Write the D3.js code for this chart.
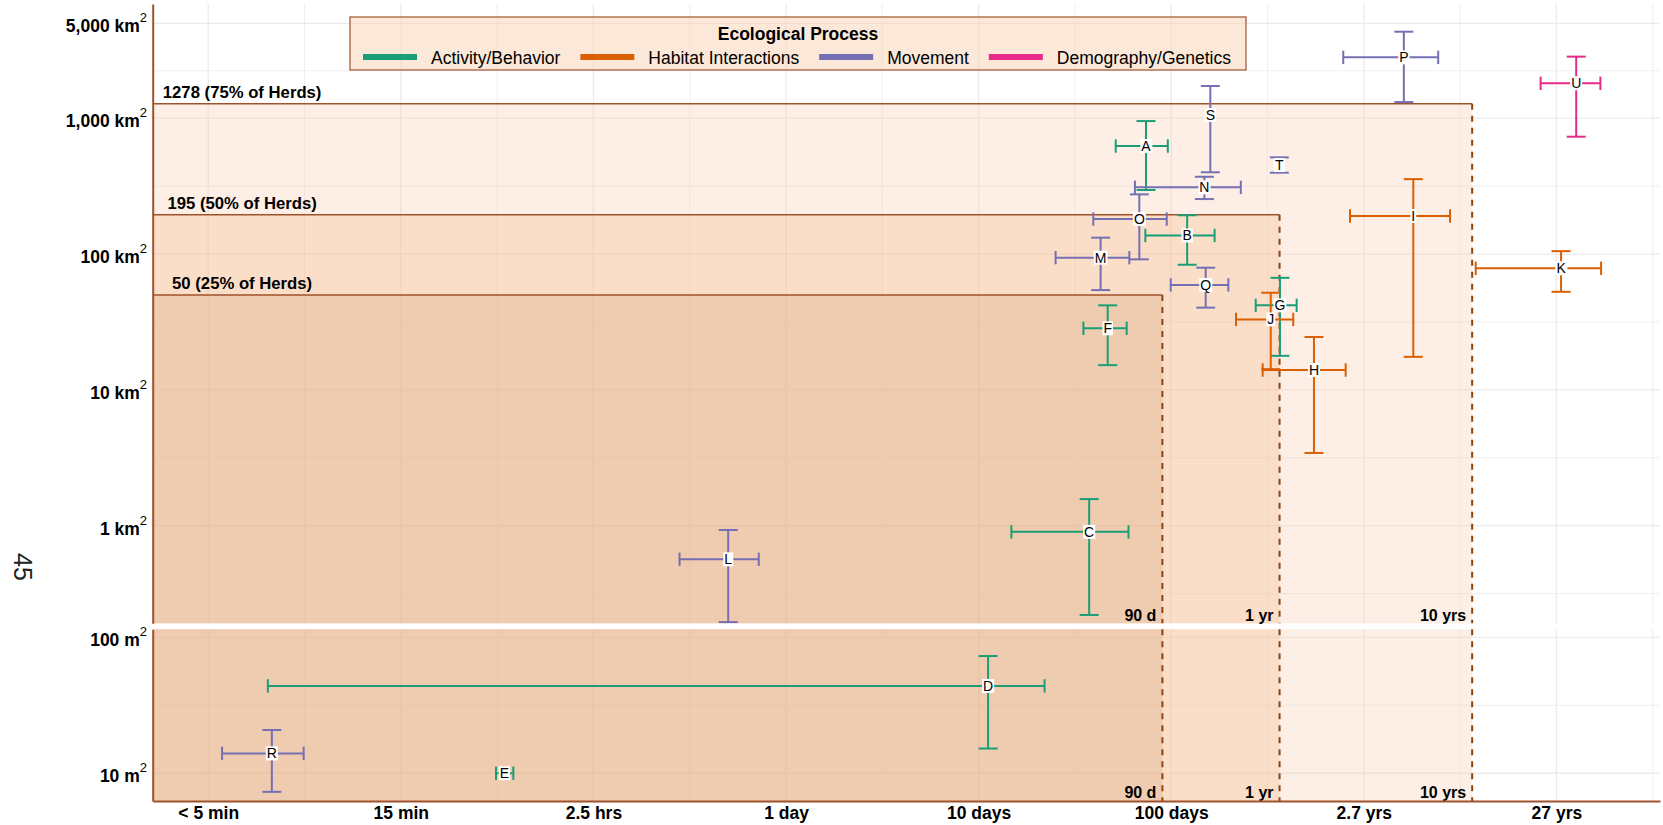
<!DOCTYPE html>
<html>
<head>
<meta charset="utf-8">
<script src="https://cdn.jsdelivr.net/npm/d3@7"></script>
<style>
  body { margin: 0; background: #ffffff; }
  text { font-family: "Liberation Sans", Arial, sans-serif; }
</style>
</head>
<body>
<svg id="chart" width="1663" height="825"></svg>
<script>
// ---------------- DATA ----------------
const studies   = ["A","B","C","D","E","F","G","H","I","J","K","L","M","N","O","P","Q","R","S","T","U"];
const processes = ["Activity/Behavior","Activity/Behavior","Activity/Behavior","Activity/Behavior","Activity/Behavior","Activity/Behavior","Activity/Behavior",
                   "Habitat Interactions","Habitat Interactions","Habitat Interactions","Habitat Interactions",
                   "Movement","Movement","Movement","Movement","Movement","Movement","Movement","Movement","Movement",
                   "Demography/Genetics"];
// panel: which facet the study area belongs to (km² or m²)
const areaUnits = ["km2","km2","km2","m2","m2","km2","km2","km2","km2","km2","km2",
                   "km2","km2","km2","km2","km2","km2","m2","km2","km2","km2"];
// sampling duration (days)
const durationMid = [74, 121, 37.5, 11.2, 0.0345, 46.8, 367, 551, 1807, 328.6, 10570,
                     0.501, 43, 148.7, 68.3, 1614, 151, 0.00214, 159.6, 364, 12670];
const durationLow = [51.5, 73.4, 14.8, 0.00204, 0.0312, 35, 274.6, 298.5, 848, 217, 3810,
                     0.28, 25.1, 64.8, 39.4, 782, 99.4, 0.00118, null, null, 8280];
const durationHigh = [96, 168, 60, 22, 0.0384, 58.7, 448, 805, 2804, 430, 17060,
                      0.722, 60.6, 229.8, 94.8, 2433, 198, 0.00313, null, null, 16920];
// study area (km² for km2 rows, m² for m2 rows)
const areaMid  = [624, 137, 0.90, 43.9, 10, 28.4, 41.9, 14.0, 190.6, 33, 78.5,
                  0.565, 94, 309.7, 181, 2806, 59.2, 14.0, 1057, 452, 1807];
const areaLow  = [296, 83.4, 0.22, 15.2, null, 15.2, 17.8, 3.43, 17.5, 14.2, 52.7,
                  0.195, 54.3, 254, 91.4, 1315, 40.3, 7.3, 400, 397, 731];
const areaHigh = [953, 193, 1.57, 72.8, null, 41.9, 66.8, 24.5, 356, 51.9, 105,
                  0.929, 132, 370.6, 275, 4336, 79.3, 20.8, 1726, 515, 2840];

const processCategories = ["Activity/Behavior","Habitat Interactions","Movement","Demography/Genetics"];
const processColors     = ["#1B9E77","#D95F02","#7570B3","#E7298A"];

const xTickValues = [0.001, 0.01, 0.1, 1, 10, 100, 1000, 10000];
const xTickLabels = ["< 5 min","15 min","2.5 hrs","1 day","10 days","100 days","2.7 yrs","27 yrs"];
const yTopTickValues = [5000, 1000, 100, 10, 1];
const yTopTickLabels = ["5,000 km","1,000 km","100 km","10 km","1 km"];
const yBotTickValues = [100, 10];
const yBotTickLabels = ["100 m","10 m"];

const herdAreas      = [1278, 195, 50];
const herdAreaLabels = ["1278 (75% of Herds)","195 (50% of Herds)","50 (25% of Herds)"];
const herdDays       = [3652.5, 365.25, 90];
const herdDayLabels  = ["10 yrs","1 yr","90 d"];
const herdFills      = ["rgb(248,202,168)","rgb(250,182,132)","rgb(212,162,120)"];
const herdLabelDay   = 0.0015;   // x position (days) at which threshold labels are centred

const yTitle = "45";
const legendTitle = "Ecological Process";

// ---------------- LAYOUT ----------------
const svg = d3.select("#chart");
const plotLeft = 152.7, plotRight = 1660;
const topPanel = {top: 4, bottom: 623.3};
const botPanel = {top: 629.3, bottom: 801};

const x = d3.scaleLog().domain([0.000515, 34500]).range([plotLeft, plotRight]);
const yTop = d3.scaleLog().domain([0.191, 6935]).range([topPanel.bottom, topPanel.top]);
const yBot = d3.scaleLog().domain([6.25, 114.5]).range([botPanel.bottom, botPanel.top]);
const color = d3.scaleOrdinal().domain(processCategories).range(processColors);

const brown = "#A0522D";
const gridCol = "#EBEBEB";

// ---------- gridlines ----------
const grid = svg.append("g");
function extendMajors(vals) {
  const s = vals.slice().sort((a,b)=>a-b);
  const lg = s.map(Math.log10);
  const first = lg[0] - (lg[1]-lg[0]);
  const last = lg[lg.length-1] + (lg[lg.length-1]-lg[lg.length-2]);
  return [first, ...lg, last];
}
function minorsOf(vals) {
  const e = extendMajors(vals);
  const out = [];
  for (let i = 0; i < e.length-1; i++) out.push(Math.pow(10, (e[i]+e[i+1])/2));
  return out;
}
const xMinor = minorsOf(xTickValues).filter(v => x(v) >= plotLeft && x(v) <= plotRight);
[[topPanel, yTop, yTopTickValues], [botPanel, yBot, yBotTickValues]].forEach(([p, ys, majors]) => {
  const [d0, d1] = ys.domain();
  const minors = minorsOf(majors).filter(v => v >= d0 && v <= d1);
  grid.selectAll(null).data(minors).join("line")
    .attr("x1", plotLeft).attr("x2", plotRight)
    .attr("y1", d => ys(d)).attr("y2", d => ys(d))
    .attr("stroke", gridCol).attr("stroke-width", 0.8);
  grid.selectAll(null).data(xMinor).join("line")
    .attr("x1", d => x(d)).attr("x2", d => x(d))
    .attr("y1", p.top).attr("y2", p.bottom)
    .attr("stroke", gridCol).attr("stroke-width", 0.8);
  grid.selectAll(null).data(majors).join("line")
    .attr("x1", plotLeft).attr("x2", plotRight)
    .attr("y1", d => ys(d)).attr("y2", d => ys(d))
    .attr("stroke", gridCol).attr("stroke-width", 1.3);
  grid.selectAll(null).data(xTickValues).join("line")
    .attr("x1", d => x(d)).attr("x2", d => x(d))
    .attr("y1", p.top).attr("y2", p.bottom)
    .attr("stroke", gridCol).attr("stroke-width", 1.3);
});

// ---------- herd threshold rectangles ----------
const herd = svg.append("g");
herdAreas.forEach((a, i) => {
  const xr = x(herdDays[i]);
  herd.append("rect")
    .attr("x", plotLeft).attr("y", yTop(a))
    .attr("width", xr - plotLeft).attr("height", topPanel.bottom - yTop(a))
    .attr("fill", herdFills[i]).attr("fill-opacity", 0.3);
  herd.append("rect")
    .attr("x", plotLeft).attr("y", botPanel.top)
    .attr("width", xr - plotLeft).attr("height", botPanel.bottom - botPanel.top)
    .attr("fill", herdFills[i]).attr("fill-opacity", 0.3);
});
herdAreas.forEach((a, i) => {
  const xr = x(herdDays[i]);
  herd.append("line")
    .attr("x1", plotLeft).attr("x2", xr).attr("y1", yTop(a)).attr("y2", yTop(a))
    .attr("stroke", brown).attr("stroke-width", 1.5);
  herd.append("line")
    .attr("x1", xr).attr("x2", xr).attr("y1", yTop(a)).attr("y2", topPanel.bottom)
    .attr("stroke", "#8B4513").attr("stroke-width", 2).attr("stroke-dasharray", "6,6");
  herd.append("line")
    .attr("x1", xr).attr("x2", xr).attr("y1", botPanel.top).attr("y2", botPanel.bottom)
    .attr("stroke", "#8B4513").attr("stroke-width", 2).attr("stroke-dasharray", "6,6");
  [topPanel.bottom - 2.5, botPanel.bottom - 3].forEach(yy => {
    herd.append("text")
      .attr("x", xr - 6).attr("y", yy)
      .attr("text-anchor", "end").attr("font-weight", "bold").attr("font-size", 16)
      .attr("fill", "#000").text(herdDayLabels[i]);
  });
  herd.append("text")
    .attr("x", x(herdLabelDay)).attr("y", yTop(a) - 6)
    .attr("text-anchor", "middle").attr("font-weight", "bold").attr("font-size", 16.7)
    .attr("fill", "#000").text(herdAreaLabels[i]);
});

// ---------- axes ----------
const xAxis = svg.append("g").attr("transform", `translate(0,${botPanel.bottom})`)
  .call(d3.axisBottom(x).tickValues(xTickValues).tickFormat((d,i) => xTickLabels[i])
        .tickSize(0).tickSizeOuter(0).tickPadding(6));
xAxis.select(".domain").attr("stroke", brown).attr("stroke-width", 2);
xAxis.selectAll("text").attr("font-size", 17.5).attr("font-weight", "bold")
  .attr("fill", "#000").attr("font-family", "Liberation Sans, Arial, sans-serif");

function yAxisFor(scale, vals, labels) {
  const g = svg.append("g").attr("transform", `translate(${plotLeft},0)`)
    .call(d3.axisLeft(scale).tickValues(vals).tickFormat((d,i) => labels[i])
          .tickSize(0).tickSizeOuter(0).tickPadding(5.7));
  g.select(".domain").attr("stroke", brown).attr("stroke-width", 2);
  g.selectAll("text").attr("font-size", 17.5).attr("font-weight", "bold")
    .attr("fill", "#000").attr("y", 3)
    .attr("font-family", "Liberation Sans, Arial, sans-serif")
    .append("tspan").attr("dy", -10).attr("font-size", 13).attr("font-weight", "normal").text("2");
  return g;
}
yAxisFor(yTop, yTopTickValues, yTopTickLabels);
yAxisFor(yBot, yBotTickValues, yBotTickLabels);

// y title
svg.append("text")
  .attr("transform", `translate(23,567) rotate(90)`)
  .attr("text-anchor", "middle").attr("dominant-baseline", "central")
  .attr("font-size", 25).attr("fill", "#222").text(yTitle);

// ---------- error bars & labels ----------
const marks = svg.append("g");
const hCap = 6.7, vCap = 9.5;
studies.forEach((s, i) => {
  const ys = areaUnits[i] === "km2" ? yTop : yBot;
  const col = color(processes[i]);
  const cx = x(durationMid[i]), cy = ys(areaMid[i]);
  const g = marks.append("g").attr("stroke", col).attr("stroke-width", 2).attr("fill", "none");
  if (durationLow[i] != null) {
    const x0 = x(durationLow[i]), x1 = x(durationHigh[i]);
    g.append("line").attr("x1", x0).attr("x2", x1).attr("y1", cy).attr("y2", cy);
    g.append("line").attr("x1", x0).attr("x2", x0).attr("y1", cy - hCap).attr("y2", cy + hCap);
    g.append("line").attr("x1", x1).attr("x2", x1).attr("y1", cy - hCap).attr("y2", cy + hCap);
  }
  if (areaLow[i] != null) {
    const y0 = ys(areaLow[i]), y1 = ys(areaHigh[i]);
    g.append("line").attr("x1", cx).attr("x2", cx).attr("y1", y0).attr("y2", y1);
    g.append("line").attr("x1", cx - vCap).attr("x2", cx + vCap).attr("y1", y0).attr("y2", y0);
    g.append("line").attr("x1", cx - vCap).attr("x2", cx + vCap).attr("y1", y1).attr("y2", y1);
  }
});
studies.forEach((s, i) => {
  const ys = areaUnits[i] === "km2" ? yTop : yBot;
  const cx = x(durationMid[i]), cy = ys(areaMid[i]);
  const lg = marks.append("g");
  const r = lg.append("rect").attr("fill", "#fff");
  const t = lg.append("text").attr("x", cx).attr("y", cy + 5)
    .attr("text-anchor", "middle").attr("font-size", 14).attr("fill", "#000").text(s);
  const bb = t.node().getBBox();
  r.attr("x", bb.x - 1).attr("y", cy - 7).attr("width", bb.width + 2).attr("height", 14);
});

// ---------- legend ----------
const leg = svg.append("g");
leg.append("rect").attr("x", 350).attr("y", 17).attr("width", 896).attr("height", 53)
  .attr("fill", "rgb(248,217,190)").attr("fill-opacity", 0.6)
  .attr("stroke", brown).attr("stroke-width", 1.2);
leg.append("text").attr("x", 798).attr("y", 34).attr("dominant-baseline", "central")
  .attr("text-anchor", "middle").attr("font-weight", "bold").attr("font-size", 17.5)
  .attr("fill", "#000").text(legendTitle);
let lx = 363;
processCategories.forEach((c, i) => {
  leg.append("line").attr("x1", lx).attr("x2", lx + 54).attr("y1", 57).attr("y2", 57)
    .attr("stroke", color(c)).attr("stroke-width", 6);
  const t = leg.append("text").attr("x", lx + 68).attr("y", 58).attr("dominant-baseline", "central")
    .attr("font-size", 17.5).attr("fill", "#000").text(c);
  lx = lx + 68 + t.node().getComputedTextLength() + 20;
});
</script>
</body>
</html>
